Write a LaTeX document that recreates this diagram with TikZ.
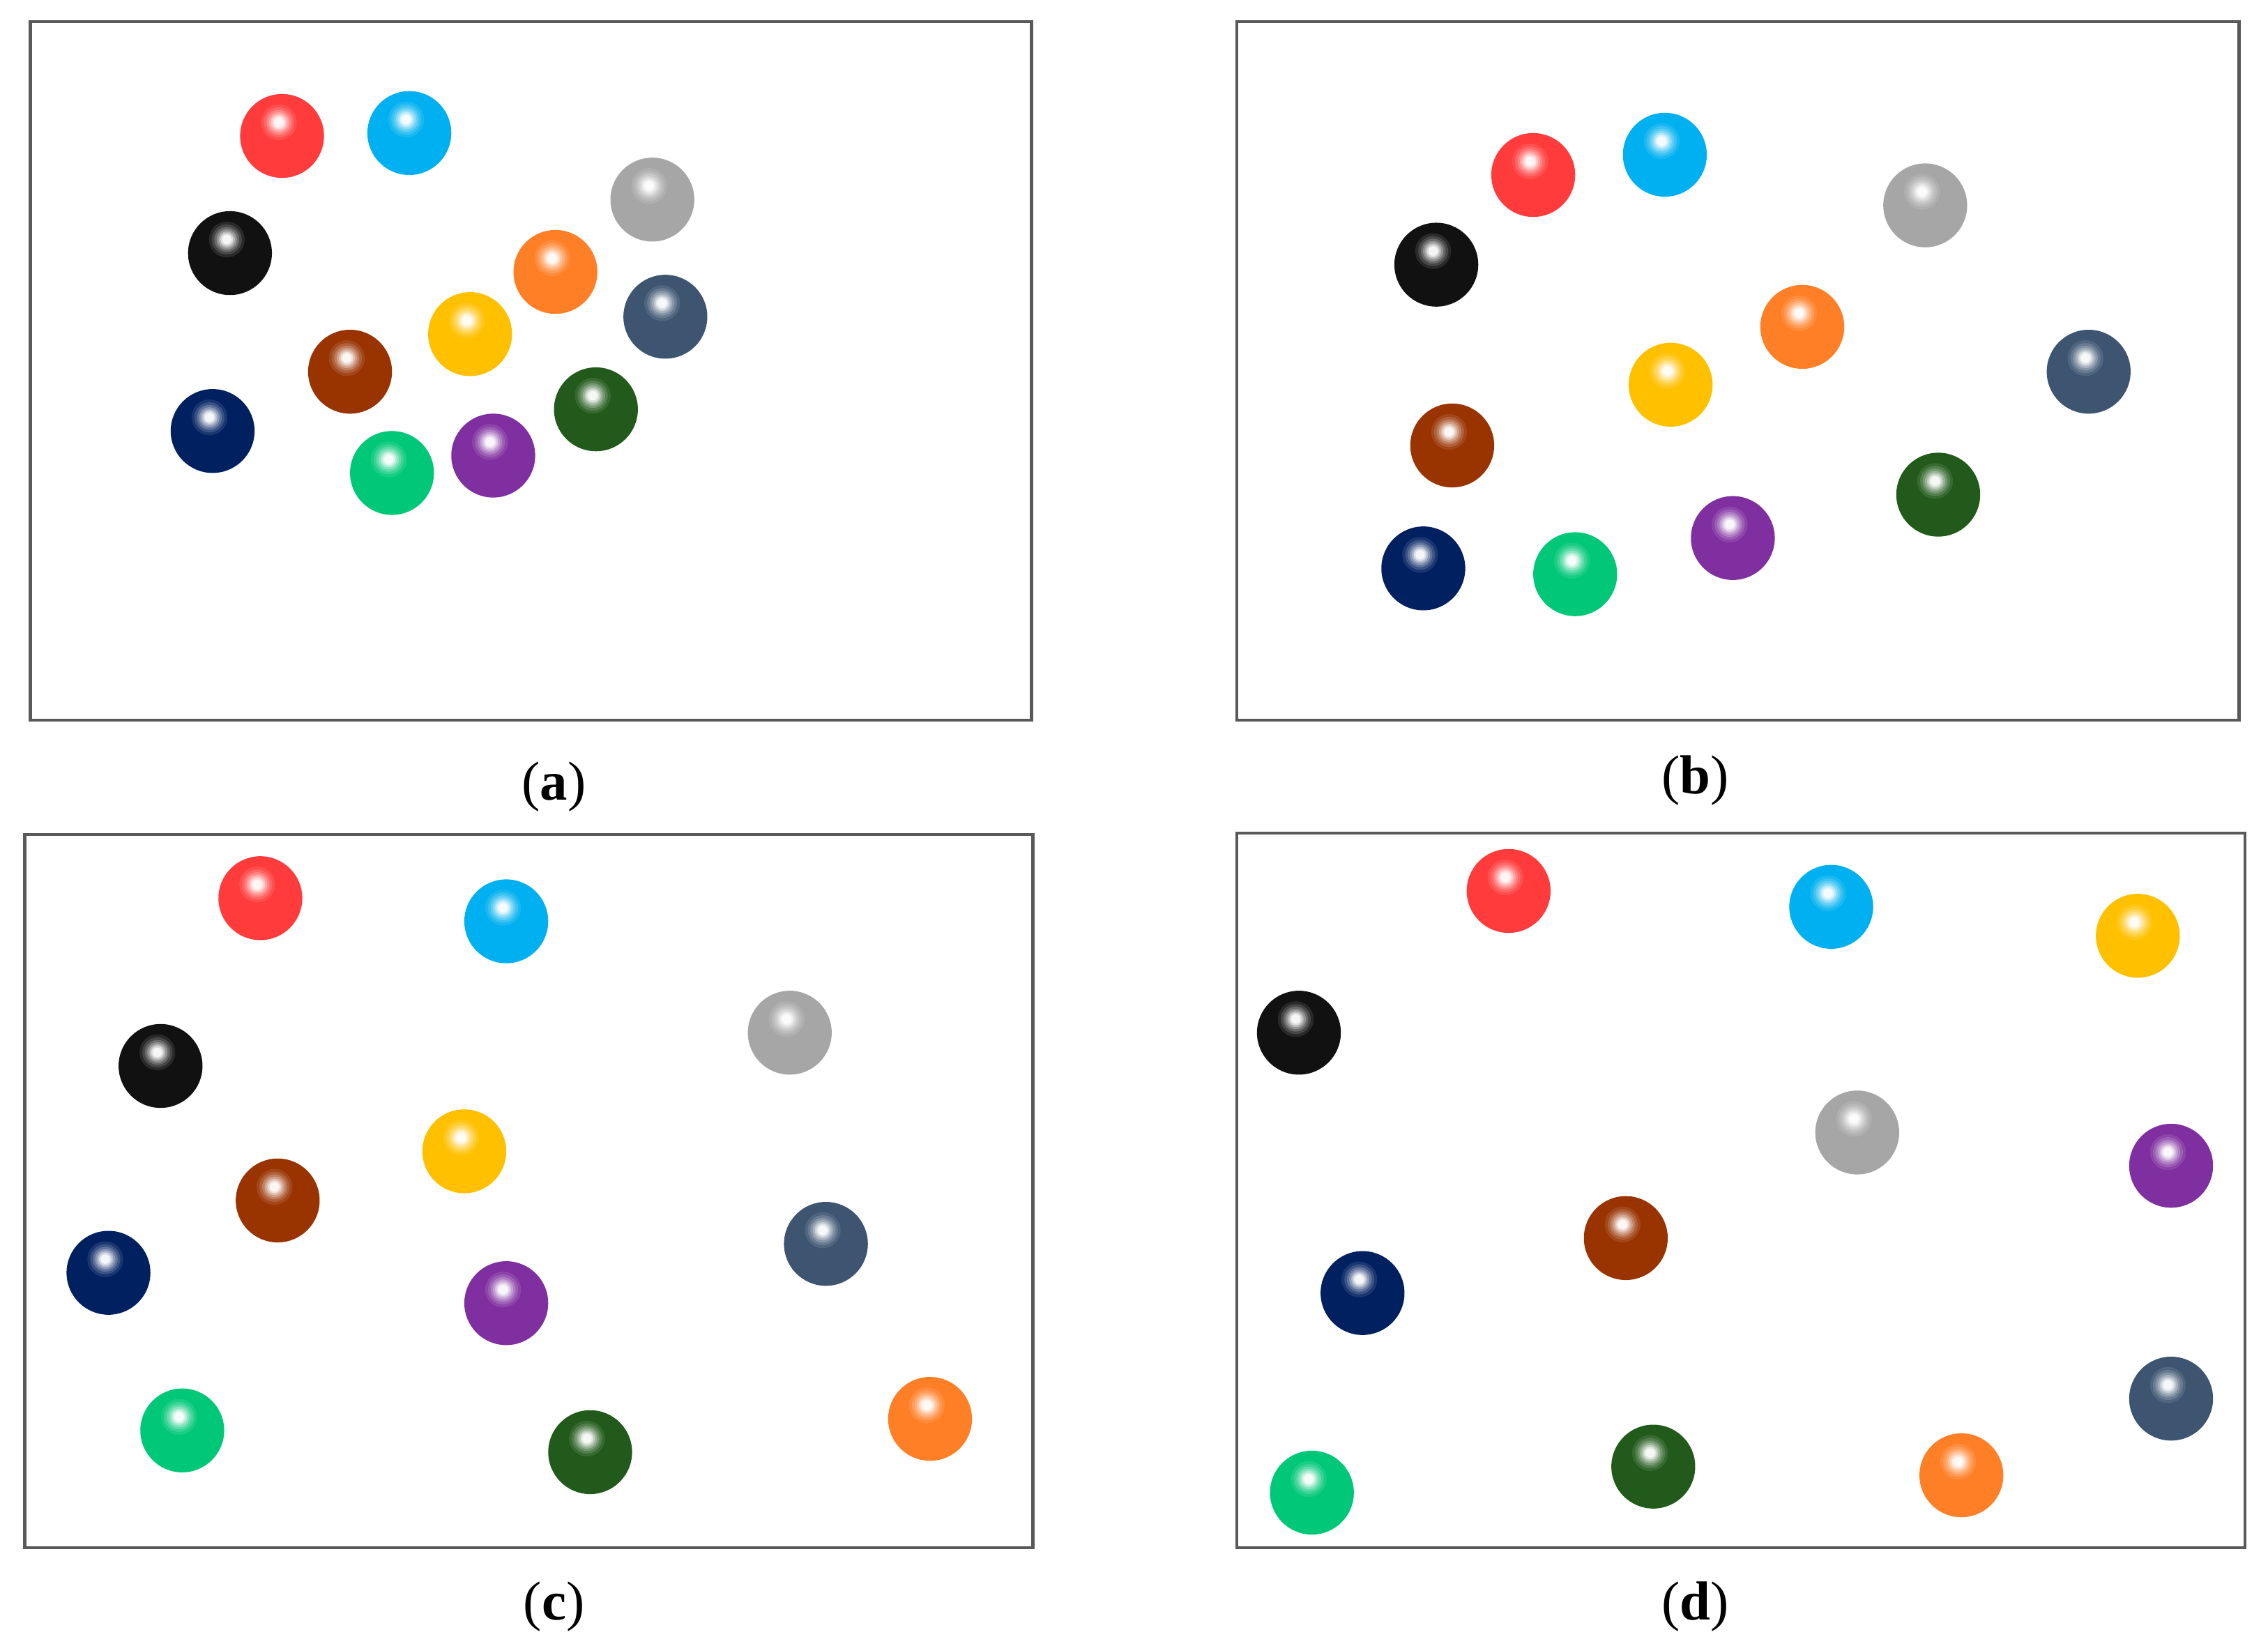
\documentclass[tikz,border=0pt]{standalone}
\usepackage{fontspec}
\setmainfont{Liberation Serif}
\definecolor{cRed}{HTML}{FF3B3B}
\definecolor{cCyan}{HTML}{00B0F0}
\definecolor{cBlack}{HTML}{111111}
\definecolor{cGray}{HTML}{A6A6A6}
\definecolor{cOrange}{HTML}{FF7F27}
\definecolor{cYellow}{HTML}{FFC000}
\definecolor{cSlate}{HTML}{3D5570}
\definecolor{cBrown}{HTML}{993300}
\definecolor{cDkGreen}{HTML}{215A1A}
\definecolor{cNavy}{HTML}{002060}
\definecolor{cMint}{HTML}{00C878}
\definecolor{cPurple}{HTML}{7F2FA0}
\definecolor{frameCol}{HTML}{595959}
\tikzset{
  ball/.style={circle, minimum size=29pt, inner sep=0pt, fill=#1,
    path picture={
      \coordinate (hlc) at ([shift={(-1.1pt,4.7pt)}]path picture bounding box.center);
      \foreach \rr/\oo in {6.2/0.10,5.2/0.14,4.3/0.2,3.5/0.27,2.8/0.36,2.2/0.5,1.6/0.75}
        \fill[white, fill opacity=\oo] (hlc) circle[radius=\rr pt];}},
  panel/.style={draw=frameCol, line width=1.1pt},
  caption/.style={anchor=base, font=\fontsize{19}{21}\selectfont, inner sep=0pt}
}
\newcommand{\capt}[1]{(\textbf{#1})}
\begin{document}
\begin{tikzpicture}[x=0.5pt, y=-0.5pt]
\useasboundingbox (0,0) rectangle (1568,1138);
% frames
\draw[panel] (21,15) rectangle (713,498);
\draw[panel] (855,15) rectangle (1548,498);
\draw[panel] (17,577) rectangle (714,1070);
\draw[panel] (855,576) rectangle (1552,1070);
% captions
\node[caption] (la) at (383,553) {\capt{a}};
\node[caption] (lb) at (1172,549) {\capt{b}};
\node[caption] (lc) at (383,1120) {\capt{c}};
\node[caption] (ld) at (1172,1120) {\capt{d}};
% (a)
\node[ball=cRed] (a1) at (195,94) {};
\node[ball=cCyan] (a2) at (283,92) {};
\node[ball=cGray] (a3) at (451,138) {};
\node[ball=cBlack] (a4) at (159,175) {};
\node[ball=cOrange] (a5) at (384,188) {};
\node[ball=cSlate] (a6) at (460,219) {};
\node[ball=cYellow] (a7) at (325,231) {};
\node[ball=cBrown] (a8) at (242,257) {};
\node[ball=cDkGreen] (a9) at (412,283) {};
\node[ball=cNavy] (a10) at (147,298) {};
\node[ball=cMint] (a11) at (271,327) {};
\node[ball=cPurple] (a12) at (341,315) {};
% (b)
\node[ball=cRed] (b1) at (1060,121) {};
\node[ball=cCyan] (b2) at (1151,107) {};
\node[ball=cGray] (b3) at (1331,142) {};
\node[ball=cBlack] (b4) at (993,183) {};
\node[ball=cOrange] (b5) at (1246,226) {};
\node[ball=cYellow] (b6) at (1155,266) {};
\node[ball=cSlate] (b7) at (1444,257) {};
\node[ball=cBrown] (b8) at (1004,308) {};
\node[ball=cDkGreen] (b9) at (1340,342) {};
\node[ball=cNavy] (b10) at (984,393) {};
\node[ball=cMint] (b11) at (1089,397) {};
\node[ball=cPurple] (b12) at (1198,372) {};
% (c)
\node[ball=cRed] (c1) at (180,621) {};
\node[ball=cCyan] (c2) at (350,637) {};
\node[ball=cGray] (c3) at (546,714) {};
\node[ball=cBlack] (c4) at (111,737) {};
\node[ball=cYellow] (c5) at (321,796) {};
\node[ball=cBrown] (c6) at (192,830) {};
\node[ball=cSlate] (c7) at (571,860) {};
\node[ball=cNavy] (c8) at (75,880) {};
\node[ball=cPurple] (c9) at (350,901) {};
\node[ball=cMint] (c10) at (126,989) {};
\node[ball=cDkGreen] (c11) at (408,1004) {};
\node[ball=cOrange] (c12) at (643,981) {};
% (d)
\node[ball=cRed] (d1) at (1043,616) {};
\node[ball=cCyan] (d2) at (1266,627) {};
\node[ball=cYellow] (d3) at (1478,647) {};
\node[ball=cBlack] (d4) at (898,714) {};
\node[ball=cGray] (d5) at (1284,783) {};
\node[ball=cPurple] (d6) at (1501,806) {};
\node[ball=cBrown] (d7) at (1124,856) {};
\node[ball=cNavy] (d8) at (942,894) {};
\node[ball=cSlate] (d9) at (1501,967) {};
\node[ball=cMint] (d10) at (907,1032) {};
\node[ball=cDkGreen] (d11) at (1143,1014) {};
\node[ball=cOrange] (d12) at (1356,1020) {};
\end{tikzpicture}
\end{document}
